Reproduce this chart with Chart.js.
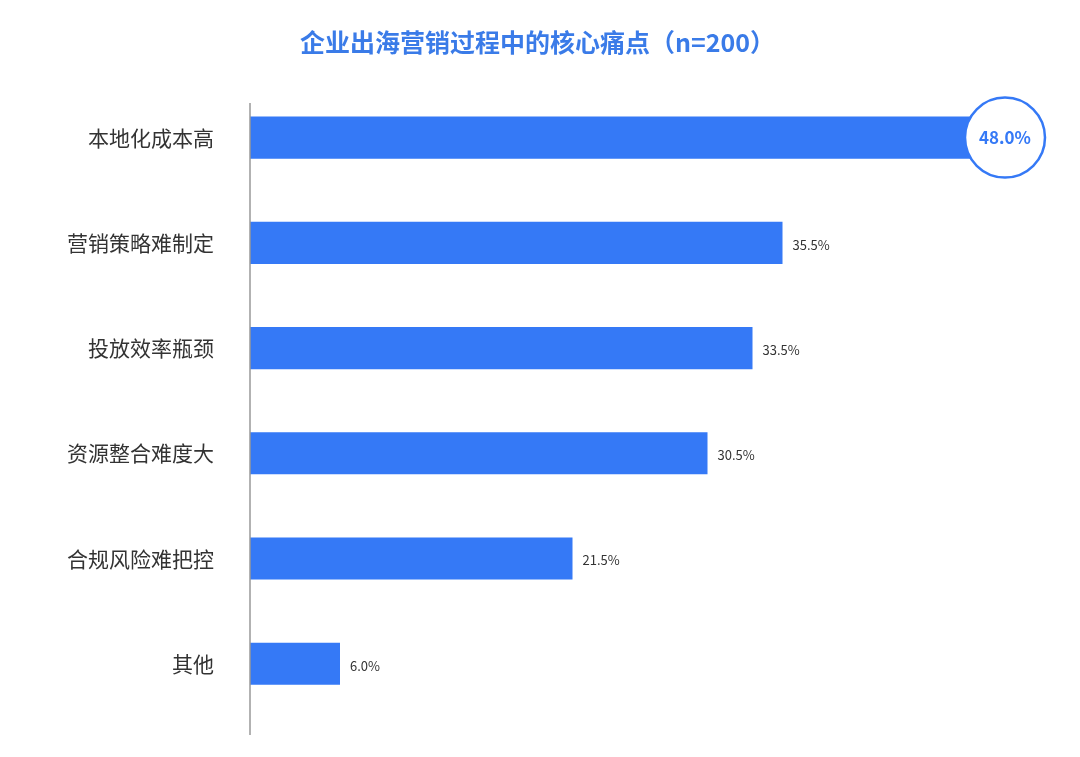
<!DOCTYPE html>
<html><head><meta charset="utf-8">
<script src="https://cdn.jsdelivr.net/npm/chart.js@4/dist/chart.umd.min.js"></script>
<style>html,body{margin:0;padding:0;background:#fff}#w{width:1080px;height:757px}</style>
</head><body><div id="w"><canvas id="c"></canvas></div>
<script>
const categories=["本地化成本高","营销策略难制定","投放效率瓶颈","资源整合难度大","合规风险难把控","其他"];
const values=[48.0,35.5,33.5,30.5,21.5,6.0];
const titleText="企业出海营销过程中的核心痛点（n=200）";
const FONT="'Noto Sans CJK SC','Noto Sans',sans-serif";
const labelPlugin={id:'lbl',afterDatasetsDraw(ch){
  const ctx=ch.ctx,meta=ch.getDatasetMeta(0),x=ch.scales.x;
  ctx.save();
  ctx.strokeStyle='#999';ctx.lineWidth=1.5;ctx.beginPath();
  ctx.moveTo(x.left,103);ctx.lineTo(x.left,735);ctx.stroke();
  meta.data.forEach((b,i)=>{
    const t=values[i].toFixed(1)+'%';
    if(i===0){
      const cx=b.x+35,cy=b.y;
      ctx.beginPath();ctx.arc(cx,cy,40,0,Math.PI*2);ctx.fillStyle='#fff';ctx.fill();
      ctx.lineWidth=2.5;ctx.strokeStyle='#3579f6';ctx.stroke();
      ctx.fillStyle='#3579f6';ctx.font='bold 17px '+FONT;ctx.textAlign='center';ctx.textBaseline='middle';
      ctx.fillText(t,cx,cy);
    } else {
      ctx.fillStyle='#333';ctx.font='13px '+FONT;ctx.textAlign='left';ctx.textBaseline='middle';
      ctx.fillText(t,b.x+10,b.y+2);
    }
  });
  ctx.restore();
}};
new Chart(document.getElementById('c'),{
  type:'bar',
  data:{labels:categories,datasets:[{data:values,backgroundColor:'#3579f6',barPercentage:0.4,categoryPercentage:1}]},
  options:{indexAxis:'y',responsive:true,maintainAspectRatio:false,animation:false,
    layout:{padding:{left:0,right:5,top:0,bottom:-35}},
    plugins:{legend:{display:false},tooltip:{enabled:false},
      title:{display:true,text:titleText,color:'#3a7be8',font:{family:FONT,size:25,weight:'bold'},padding:{top:27,bottom:28}}},
    scales:{
      x:{min:0,max:55,display:false},
      y:{grid:{display:false},border:{display:false},
        ticks:{color:'#333',font:{family:FONT,size:21},padding:28},
        afterFit(s){s.width=250;}}
    }},
  plugins:[labelPlugin]
});
</script></body></html>
